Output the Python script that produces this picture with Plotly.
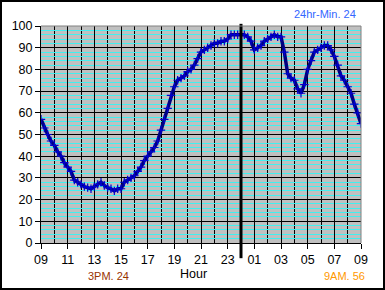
import plotly.graph_objects as go

# hours since 09:00 on day 1 (9 -> 33)
hours = [9 + 0.25 * i for i in range(97)]
humidity = [57, 53, 50, 47, 45, 42, 40, 37, 35, 33, 29, 28,
            27, 26, 25.5, 25, 26, 27, 28, 26.5, 25.5, 25, 24, 25,
            25, 28, 29, 30, 31, 33, 35, 38, 40, 42, 44, 47,
            52, 57, 62, 68, 72, 75, 76, 77, 79, 80, 82, 85,
            88, 89, 90, 91, 92, 92, 93, 93, 94, 96, 96, 96,
            96, 96, 95, 93, 89, 90, 91, 93, 94, 95, 96, 95,
            95, 88, 78, 76, 75, 71, 69, 73, 80, 84, 88, 89,
            90, 91, 91, 89, 86, 82, 77, 75, 72, 69, 64, 60, 55]
tick_vals = list(range(9, 34, 2))
tick_text = ["09", "11", "13", "15", "17", "19", "21", "23", "01", "03", "05", "07", "09"]
title_text = "24hr-Min. 24"
min_text = "3PM. 24"
last_text = "9AM. 56"
x_title = "Hour"

L, R, T, B = 41, 24, 26, 47
W, H = 385, 290
pw, ph = W - L - R, H - T - B

fig = go.Figure()
fig.add_trace(go.Scatter(
    x=hours, y=humidity, mode="lines+markers",
    line=dict(color="#000080", width=3.5),
    marker=dict(symbol="cross-thin", size=6, line=dict(color="#0000D0", width=1.2)),
    showlegend=False))

fig.update_layout(
    width=W, height=H,
    margin=dict(l=L, r=R, t=T, b=B),
    paper_bgcolor="white", plot_bgcolor="#C0C0C0",
    font=dict(family="Liberation Sans, Arial", color="black", size=12.5),
    xaxis=dict(range=[9, 33], tickvals=tick_vals, ticktext=tick_text,
               showgrid=True, gridcolor="black", gridwidth=1,
               minor=dict(dtick=1, tick0=9, showgrid=True, gridcolor="black", gridwidth=1),
               showline=True, linecolor="black", linewidth=1,
               ticks="outside", ticklen=5, tickcolor="black", zeroline=False),
    yaxis=dict(range=[0, 100], dtick=10, tick0=0,
               showgrid=True, gridcolor="black", gridwidth=1,
               minor=dict(dtick=2, tick0=0, showgrid=True, gridcolor="#40F0F0", gridwidth=1),
               showline=True, linecolor="black", linewidth=1,
               ticks="outside", ticklen=5, tickcolor="black", zeroline=False),
)

shapes = [
    # midnight marker
    dict(type="line", xref="x", yref="paper", x0=24, x1=24, y0=-0.07, y1=1.01,
         line=dict(color="black", width=3)),
    # top/right plot border in grey
    dict(type="line", xref="paper", yref="paper", x0=0, x1=1, y0=1, y1=1,
         line=dict(color="#808080", width=1)),
    dict(type="line", xref="paper", yref="paper", x0=1, x1=1, y0=0, y1=1,
         line=dict(color="#808080", width=1)),
    # outer frame
    dict(type="rect", xref="paper", yref="paper",
         x0=-(L - 1) / pw, x1=(pw + R - 1) / pw, y0=-(B - 1) / ph, y1=(ph + T - 1) / ph,
         line=dict(color="black", width=2), layer="above"),
]
fig.update_layout(shapes=shapes)

fig.add_annotation(text=title_text, xref="paper", yref="paper", x=(358 - L) / pw, y=(H - 14 - B) / ph,
                   xanchor="right", yanchor="middle", showarrow=False,
                   font=dict(size=11, color="#3366FF"))
fig.add_annotation(text=min_text, xref="paper", yref="paper", x=(108 - L) / pw, y=(H - 276 - B) / ph,
                   xanchor="center", yanchor="middle", showarrow=False,
                   font=dict(size=11, color="#993300"))
fig.add_annotation(text=x_title, xref="paper", yref="paper", x=(193 - L) / pw, y=(H - 274 - B) / ph,
                   xanchor="center", yanchor="middle", showarrow=False,
                   font=dict(size=12.5, color="black"))
fig.add_annotation(text=last_text, xref="paper", yref="paper", x=(344 - L) / pw, y=(H - 276 - B) / ph,
                   xanchor="center", yanchor="middle", showarrow=False,
                   font=dict(size=11, color="#FF9900"))

fig.write_html("out.html")
